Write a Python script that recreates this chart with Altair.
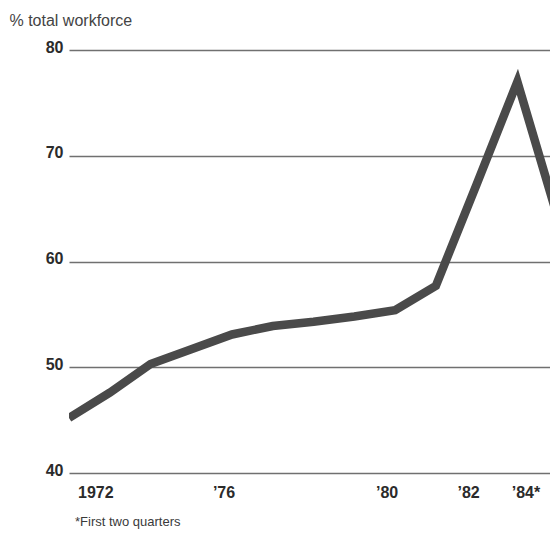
import altair as alt
import pandas as pd

# Share of total workforce, annual; 1984 covers the first two quarters only
years = [1972, 1973, 1974, 1975, 1976, 1977, 1978, 1979, 1980, 1981, 1982, 1983, 1984]
share = [45.2, 47.6, 50.3, 51.7, 53.1, 53.9, 54.3, 54.8, 55.4, 57.7, 67.3, 77.0, 64.0]

tick_years = [1972, 1976, 1980, 1982, 1984]
tick_labels = ["1972", "\u201976", "\u201980", "\u201982", "\u201984*"]
y_ticks = [40, 50, 60, 70, 80]
footnote = "*First two quarters"

FONT = "Liberation Sans"
INK = "#4a4a4a"

series = pd.DataFrame({"year": years, "share": share})
labels = pd.DataFrame({"year": tick_years, "label": tick_labels,
                       "pos": list(range(len(tick_years)))})
last = len(tick_years) - 1

x_scale = alt.Scale(domain=[1972, 1983.8], nice=False, zero=False)
y_scale = alt.Scale(domain=[40, 80], nice=False, zero=False)

line = alt.Chart(series).mark_line(
    color=INK, strokeWidth=8.5, strokeJoin="miter", clip=True
).encode(
    x=alt.X("year:Q", scale=x_scale, axis=None),
    y=alt.Y(
        "share:Q",
        scale=y_scale,
        axis=alt.Axis(
            values=y_ticks, grid=True, domain=False, ticks=False,
            labelFontSize=16, labelFontWeight="bold", labelColor="#2b2b2b",
            labelPadding=6, labelOffset=-3, labelFont=FONT,
            gridColor="#707070", gridWidth=1.4,
            title="% total workforce", titleAngle=0, titleAlign="left",
            titleBaseline="alphabetic", titleX=-60, titleY=-25,
            titleFontSize=16, titleFontWeight="normal", titleColor="#444444",
            titleFont=FONT,
        ),
    ),
)

label_style = dict(fontSize=16, fontWeight="bold", color="#2b2b2b",
                   font=FONT, baseline="middle", dy=20)


def year_labels(test, align, dx):
    return alt.Chart(labels).transform_filter(test).mark_text(
        align=align, dx=dx, **label_style
    ).encode(
        x=alt.X("year:Q", scale=x_scale, axis=None),
        y=alt.YDatum(40, axis=None),
        text="label:N",
    )


first_label = year_labels("datum.pos == 0", "left", 9)
mid_labels = year_labels(f"datum.pos > 0 && datum.pos < {last}", "center", -8)
last_label = year_labels(f"datum.pos == {last}", "right", -18)

note = alt.Chart(pd.DataFrame({"note": [footnote]})).mark_text(
    align="left", baseline="middle", dx=6, dy=49,
    fontSize=13, color="#3a3a3a", font=FONT,
).encode(
    x=alt.XDatum(1972, axis=None),
    y=alt.YDatum(40, axis=None),
    text="note:N",
)

chart = alt.layer(line, first_label, mid_labels, last_label, note).resolve_axis(
    x="independent", y="independent"
).properties(
    width=481,
    height=423,
    padding={"left": 69, "top": 50, "right": 0, "bottom": 60},
    autosize=alt.AutoSizeParams(type="none"),
    background="white",
).configure_view(stroke=None)

chart.save("out.html", embed_options={"renderer": "svg", "actions": False})
